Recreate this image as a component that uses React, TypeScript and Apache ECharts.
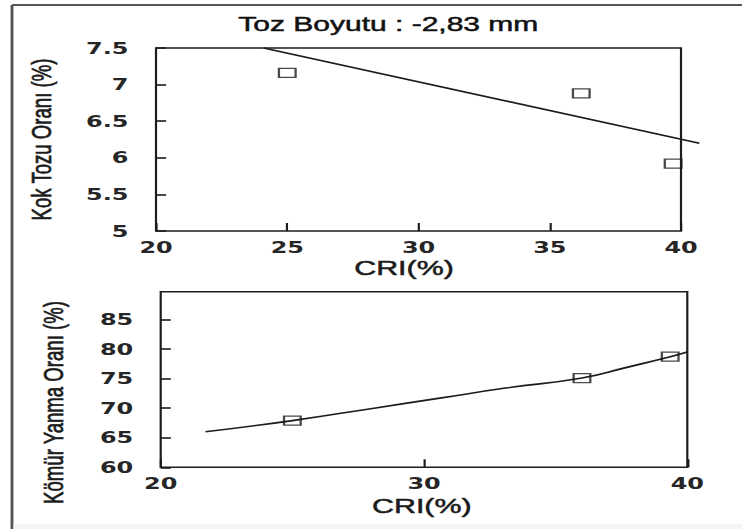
import { useEffect, useRef } from "react";
import * as echarts from "echarts";

// Coke dust ratio vs CRI (upper panel)
const cokeCri = [25, 36.2, 39.7];
const cokeDust = [7.16, 6.88, 5.92];
const cokeFitCri = [24.1, 40.7];
const cokeFitDust = [7.5, 6.2];

// Coal burnout ratio vs CRI (lower panel)
const coalCri = [25, 36, 39.35];
const coalBurn = [67.9, 75.1, 78.7];
const coalFitCri = [21.7, 25, 28.1, 30.6, 33.1, 36, 37.7, 39.35, 40];
const coalFitBurn = [66.0, 67.9, 70.0, 71.7, 73.4, 75.1, 76.9, 78.7, 79.5];

// Tick labels
const cokeXTicks = [20, 25, 30, 35, 40];
const cokeYTicks = [5, 5.5, 6, 6.5, 7, 7.5];
const coalXTicks = [20, 30, 40];
const coalYTicks = [60, 65, 70, 75, 80, 85];
const coalYMax = 89.7;

const TITLE = "Toz Boyutu : -2,83 mm";
const X_NAME = "CRI(%)";
const COKE_Y_NAME = "Kok Tozu Oranı (%)";
const COAL_Y_NAME = "Kömür Yanma Oranı (%)";

// The figure is laid out narrow and widened horizontally as a whole.
const W = 512;
const H = 529;
const S = 742 / W;
const sx = (v: number) => v / S;

const INK = "#1c1c1c";
const LABEL_FONT = "DejaVu Sans";
const TEXT_FONT = "Liberation Sans";

const zip = (a: number[], b: number[]) => a.map((v, i) => [v, b[i]]);

const tickFormatter = (ticks: number[]) => (v: number) =>
  ticks.some((t) => Math.abs(t - v) < 1e-6) ? String(v) : "";

const heavyText = { textBorderColor: INK, textBorderWidth: 0.5 };

function xAxisFor(gridIndex: number, ticks: number[], nameGap: number, padRight: number) {
  return {
    type: "value",
    gridIndex,
    min: ticks[0],
    max: ticks[ticks.length - 1],
    interval: ticks[1] - ticks[0],
    name: X_NAME,
    nameLocation: "middle",
    nameGap,
    nameTextStyle: {
      fontFamily: TEXT_FONT,
      fontSize: 21,
      color: INK,
      verticalAlign: "middle",
      padding: [0, padRight, 0, 0],
      ...heavyText,
    },
    axisLine: { show: false },
    axisTick: { show: true, inside: true, length: 8, lineStyle: { color: INK, width: 1.5 } },
    axisLabel: {
      margin: 8,
      fontFamily: LABEL_FONT,
      fontWeight: "bold",
      fontSize: 16.5,
      color: "#262626",
      formatter: tickFormatter(ticks),
    },
    splitLine: { show: false },
  };
}

function yAxisFor(
  gridIndex: number,
  ticks: number[],
  max: number,
  name: string,
  nameGap: number,
  padRight: number
) {
  return {
    type: "value",
    gridIndex,
    min: ticks[0],
    max,
    interval: ticks[1] - ticks[0],
    name,
    nameLocation: "middle",
    nameGap,
    nameTextStyle: {
      fontFamily: TEXT_FONT,
      fontSize: 18.6,
      color: INK,
      verticalAlign: "middle",
      padding: [0, padRight, 0, 0],
      ...heavyText,
    },
    axisLine: { show: false },
    axisTick: { show: true, inside: true, length: 7, lineStyle: { color: INK, width: 1.6 } },
    axisLabel: {
      margin: 19,
      fontFamily: LABEL_FONT,
      fontWeight: "bold",
      fontSize: 16.5,
      color: "#262626",
      showMaxLabel: max === ticks[ticks.length - 1],
      formatter: tickFormatter(ticks),
    },
    splitLine: { show: false },
  };
}

const markerStyle = {
  color: "rgba(255,255,255,0)",
  borderColor: INK,
  borderWidth: 1.4,
};

export default function App() {
  const ref = useRef<HTMLDivElement>(null);

  useEffect(() => {
    if (!ref.current) return;
    const chart = echarts.init(ref.current, undefined, { renderer: "svg" });

    chart.setOption({
      animation: false,
      backgroundColor: "#ffffff",
      grid: [
        {
          left: sx(156),
          top: 48,
          width: sx(681) - sx(156),
          height: 183,
          show: true,
          borderColor: INK,
          borderWidth: 1.5,
          backgroundColor: "transparent",
        },
        {
          left: sx(160.7),
          top: 291.7,
          width: sx(687.3) - sx(160.7),
          height: 175.6,
          show: true,
          borderColor: INK,
          borderWidth: 1.5,
          backgroundColor: "transparent",
        },
      ],
      xAxis: [xAxisFor(0, cokeXTicks, 37, 20), xAxisFor(1, coalXTicks, 38, 3)],
      yAxis: [
        yAxisFor(0, cokeYTicks, cokeYTicks[cokeYTicks.length - 1], COKE_Y_NAME, sx(114), 0),
        yAxisFor(1, coalYTicks, coalYMax, COAL_Y_NAME, sx(107.4), 46),
      ],
      graphic: [
        // outer frame (top and left edges)
        {
          type: "line",
          shape: { x1: sx(12), y1: 5, x2: W, y2: 5 },
          style: { stroke: "#555", lineWidth: 2 },
        },
        {
          type: "line",
          shape: { x1: sx(12), y1: 5, x2: sx(12), y2: H },
          style: { stroke: "#555", lineWidth: 2 },
        },
        {
          type: "rect",
          shape: { x: sx(13.5), y: 524, width: W, height: 5 },
          style: { fill: "#f4f4f4" },
          silent: true,
        },
        {
          type: "text",
          x: sx(388.3),
          y: 24,
          style: {
            text: TITLE,
            fontFamily: TEXT_FONT,
            fontSize: 20.7,
            fill: "#111",
            stroke: "#111",
            lineWidth: 0.5,
            align: "center",
            verticalAlign: "middle",
          },
        },
      ],
      series: [
        {
          // straight trend line, allowed to run past the right edge of the frame
          type: "custom",
          xAxisIndex: 0,
          yAxisIndex: 0,
          clip: false,
          data: [[cokeFitCri[0], cokeFitDust[0], cokeFitCri[1], cokeFitDust[1]]],
          encode: { x: [0, 2], y: [1, 3] },
          renderItem: (_params: any, api: any) => {
            const p1 = api.coord([api.value(0), api.value(1)]);
            const p2 = api.coord([api.value(2), api.value(3)]);
            return {
              type: "line",
              shape: { x1: p1[0], y1: p1[1], x2: p2[0], y2: p2[1] },
              style: { stroke: INK, lineWidth: 1.6, fill: null },
            };
          },
          z: 2,
        },
        {
          type: "scatter",
          xAxisIndex: 0,
          yAxisIndex: 0,
          data: zip(cokeCri, cokeDust),
          symbol: "rect",
          symbolSize: [11.5, 9],
          itemStyle: markerStyle,
          z: 3,
        },
        {
          type: "line",
          xAxisIndex: 1,
          yAxisIndex: 1,
          data: zip(coalFitCri, coalFitBurn),
          showSymbol: false,
          smooth: 0.5,
          clip: false,
          lineStyle: { color: INK, width: 1.6 },
          z: 2,
        },
        {
          type: "scatter",
          xAxisIndex: 1,
          yAxisIndex: 1,
          data: zip(coalCri, coalBurn),
          symbol: "rect",
          symbolSize: [11.5, 9],
          itemStyle: markerStyle,
          z: 3,
        },
      ],
    });

    return () => chart.dispose();
  }, []);

  return (
    <div
      ref={ref}
      style={{
        position: "fixed",
        left: 0,
        top: 0,
        width: W,
        height: H,
        transform: `scaleX(${S})`,
        transformOrigin: "0 0",
        background: "#fff",
      }}
    />
  );
}
